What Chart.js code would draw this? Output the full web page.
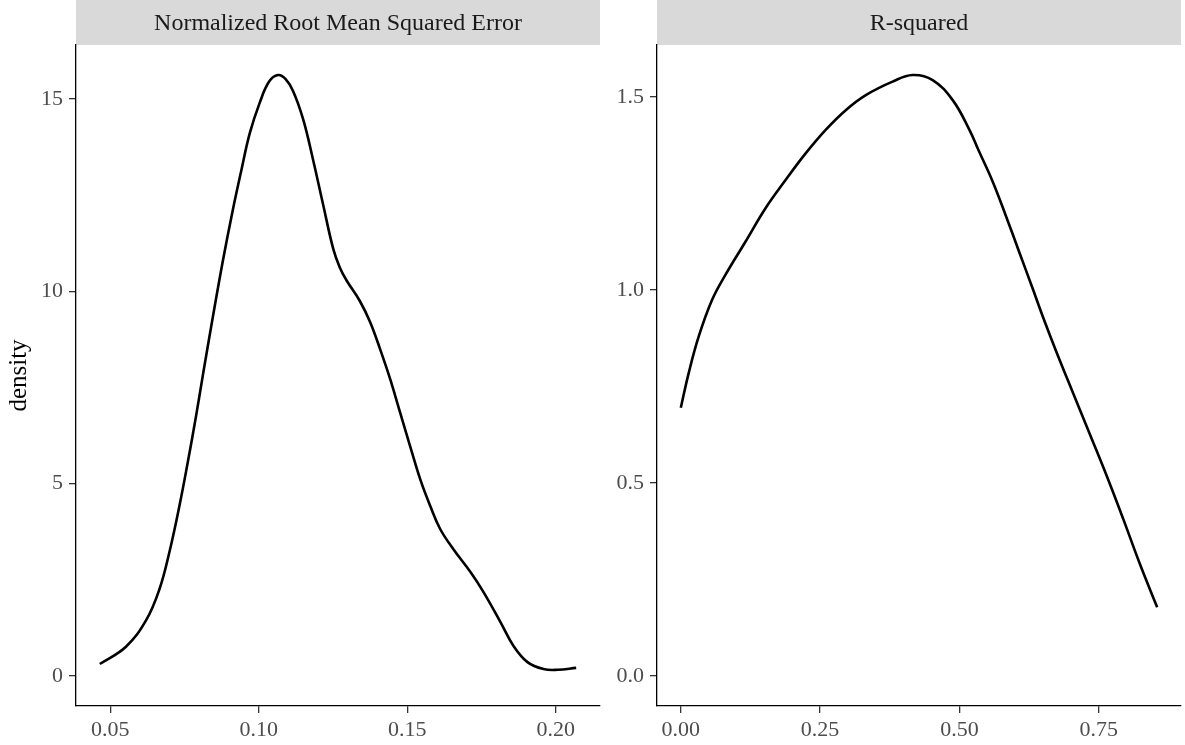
<!DOCTYPE html>
<html>
<head>
<meta charset="utf-8">
<script src="https://cdn.jsdelivr.net/npm/chart.js@4.4.1/dist/chart.umd.min.js"></script>
<style>
  html, body { margin: 0; padding: 0; background: #ffffff; }
  #wrap { position: relative; width: 1185px; height: 745px; overflow: hidden; }
  canvas { position: absolute; top: 0; }
</style>
</head>
<body>
<div id="wrap">
  <canvas id="c1" width="601" height="745" style="left:0px;width:601px;height:745px;"></canvas>
  <canvas id="c2" width="584" height="745" style="left:601px;width:584px;height:745px;"></canvas>
</div>
<script>
// ---------------- data ----------------
const panelTitles = ["Normalized Root Mean Squared Error", "R-squared"];
const yAxisTitle = "density";

const nrmseX = [0.0465, 0.0553, 0.0621, 0.0666, 0.0699, 0.0733, 0.0761, 0.0790, 0.0812, 0.0846,
                0.0880, 0.0913, 0.0942, 0.0970, 0.1003, 0.1035, 0.1065, 0.1090, 0.1116, 0.1150,
                0.1183, 0.1217, 0.1251, 0.1273, 0.1296, 0.1341, 0.1375, 0.1409, 0.1443, 0.1476,
                0.1510, 0.1544, 0.1578, 0.1611, 0.1655, 0.1713, 0.1757, 0.1814, 0.1858, 0.1905,
                0.1959, 0.2007, 0.2069];
const nrmseY = [0.31, 0.76, 1.45, 2.26, 3.21, 4.42, 5.55, 6.80, 7.82, 9.35,
                10.82, 12.12, 13.16, 14.11, 14.89, 15.45, 15.62, 15.52, 15.20, 14.46,
                13.42, 12.25, 11.10, 10.62, 10.28, 9.74, 9.20, 8.49, 7.71, 6.85,
                5.97, 5.11, 4.41, 3.82, 3.30, 2.70, 2.18, 1.40, 0.78, 0.36,
                0.18, 0.16, 0.21];

const r2X = [0.000, 0.014, 0.032, 0.056, 0.080, 0.116, 0.152, 0.188, 0.224, 0.260,
             0.296, 0.332, 0.380, 0.416, 0.452, 0.488, 0.518, 0.535, 0.560, 0.584,
             0.608, 0.632, 0.650, 0.674, 0.704, 0.734, 0.764, 0.794, 0.824, 0.855];
const r2Y = [0.695, 0.784, 0.879, 0.974, 1.039, 1.125, 1.212, 1.285, 1.354, 1.415,
             1.466, 1.505, 1.540, 1.557, 1.544, 1.492, 1.415, 1.360, 1.280, 1.190,
             1.096, 1.002, 0.930, 0.840, 0.733, 0.627, 0.520, 0.407, 0.290, 0.178];

const nrmseXTicks = [0.05, 0.10, 0.15, 0.20];
const nrmseYTicks = [0, 5, 10, 15];
const r2XTicks = [0.00, 0.25, 0.50, 0.75];
const r2YTicks = [0.0, 0.5, 1.0, 1.5];

// ---------------- styling ----------------
const FONT = "'Liberation Serif', 'Times New Roman', serif";
const STRIP_H = 45;

const stripPlugin = {
  id: 'strip',
  beforeDraw(chart, args, opts) {
    const ctx = chart.ctx, a = chart.chartArea;
    ctx.save();
    ctx.fillStyle = '#D9D9D9';
    ctx.fillRect(a.left, 0, a.right - a.left, STRIP_H);
    ctx.fillStyle = '#1A1A1A';
    ctx.font = '24px ' + FONT;
    ctx.textAlign = 'center';
    ctx.textBaseline = 'middle';
    ctx.fillText(opts.text, (a.left + a.right) / 2, STRIP_H / 2 + 1);
    ctx.restore();
  }
};

function expand(lo, hi) {
  const r = hi - lo;
  return [lo - 0.05 * r, hi + 0.05 * r];
}

function makePanel(id, xs, ys, xTicks, yTicks, xDec, yDec, title, yTitle, yWidth, padRight) {
  const xl = expand(Math.min(...xs), Math.max(...xs));
  const yl = expand(0, Math.max(...ys));
  const pts = xs.map((x, i) => ({ x: x, y: ys[i] }));
  const tickFont = { family: FONT, size: 22 };
  return new Chart(document.getElementById(id), {
    type: 'line',
    data: { datasets: [{
      data: pts,
      borderColor: '#000000',
      borderWidth: 2.6,
      pointRadius: 0,
      fill: false,
      tension: 0.4
    }]},
    plugins: [stripPlugin],
    options: {
      responsive: false,
      devicePixelRatio: 1,
      animation: false,
      layout: { padding: { top: STRIP_H, right: padRight, bottom: 0, left: 0 } },
      plugins: {
        legend: { display: false },
        tooltip: { enabled: false },
        strip: { text: title }
      },
      scales: {
        x: {
          type: 'linear',
          min: xl[0], max: xl[1],
          afterBuildTicks: s => { s.ticks = xTicks.map(v => ({ value: v })); },
          afterFit: s => { s.height = 39; },
          grid: { display: true, drawOnChartArea: false, drawTicks: true, tickLength: 7, color: '#333333', lineWidth: 1.3 },
          border: { display: true, color: '#000000', width: 1.3 },
          ticks: { autoSkip: false, maxRotation: 0, padding: 4, color: '#4D4D4D', font: tickFont,
                   callback: v => Number(v).toFixed(xDec) }
        },
        y: {
          type: 'linear',
          min: yl[0], max: yl[1],
          afterBuildTicks: s => { s.ticks = yTicks.map(v => ({ value: v })); },
          afterFit: s => { s.width = yWidth; },
          grid: { display: true, drawOnChartArea: false, drawTicks: true, tickLength: 7, color: '#333333', lineWidth: 1.3 },
          border: { display: true, color: '#000000', width: 1.3 },
          ticks: { autoSkip: false, padding: 6, color: '#4D4D4D', font: tickFont,
                   callback: v => Number(v).toFixed(yDec) },
          title: yTitle ? { display: true, text: yTitle, color: '#000000',
                            font: { family: FONT, size: 25 }, padding: { top: 4, bottom: 0 } }
                        : { display: false }
        }
      }
    }
  });
}

makePanel('c1', nrmseX, nrmseY, nrmseXTicks, nrmseYTicks, 2, 0, panelTitles[0], yAxisTitle, 76, 1);
makePanel('c2', r2X, r2Y, r2XTicks, r2YTicks, 2, 1, panelTitles[1], null, 56, 4);
</script>
</body>
</html>
